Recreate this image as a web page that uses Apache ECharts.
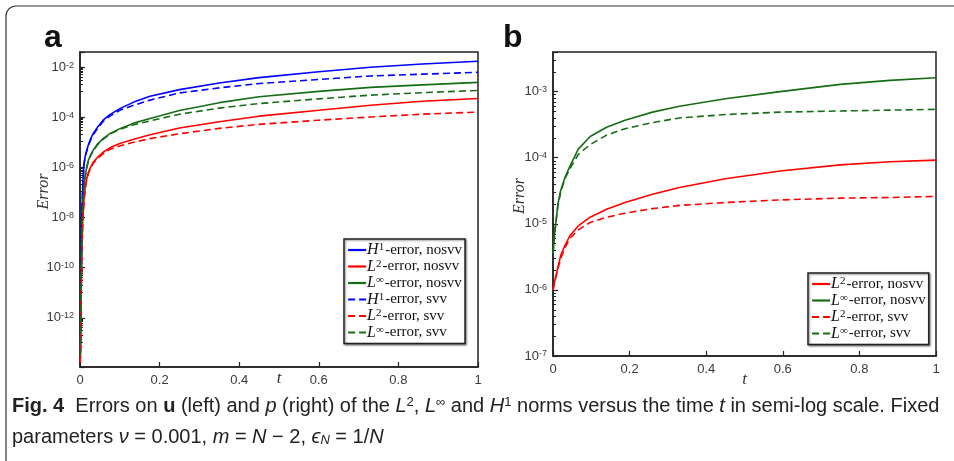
<!DOCTYPE html>
<html><head><meta charset="utf-8">
<script src="https://cdn.jsdelivr.net/npm/echarts@6/dist/echarts.min.js"></script>
<style>html,body{margin:0;padding:0;background:#fff}#c{width:954px;height:461px}</style>
</head><body><div id="c"></div>
<script>
// ---- Left panel (a): errors on u ----
const tLeft = [0.001, 0.003, 0.005, 0.007, 0.01, 0.013, 0.017, 0.021, 0.027, 0.033, 0.045, 0.058, 0.075, 0.1, 0.135, 0.176, 0.25, 0.35, 0.45, 0.6, 0.73, 0.86, 1];
const h1Nosvv = [6.3e-14, 3.2e-10, 2.5e-8, 2.2e-7, 1.4e-6, 2.8e-6, 4.8e-6, 7.9e-6, 1.4e-5, 2.2e-5, 4.2e-5, 7.6e-5, 1.26e-4, 2.2e-4, 4.0e-4, 6.8e-4, 1.26e-3, 2.3e-3, 3.8e-3, 6.5e-3, 9.8e-3, 1.32e-2, 1.7e-2];
const l2Nosvv = [2.5e-14, 1.0e-11, 6.3e-10, 7.9e-9, 5.0e-8, 1.6e-7, 3.5e-7, 6.3e-7, 1.05e-6, 1.6e-6, 2.6e-6, 4.0e-6, 6.0e-6, 8.9e-6, 1.32e-5, 2.0e-5, 3.7e-5, 6.6e-5, 1.1e-4, 1.9e-4, 3.0e-4, 4.3e-4, 5.6e-4];
const linfNosvv = [5.0e-14, 1.0e-10, 5.0e-9, 4.0e-8, 2.0e-7, 4.5e-7, 1.05e-6, 1.9e-6, 3.2e-6, 4.8e-6, 8.9e-6, 1.4e-5, 2.2e-5, 3.5e-5, 5.8e-5, 8.9e-5, 1.86e-4, 3.8e-4, 6.5e-4, 1.07e-3, 1.55e-3, 1.95e-3, 2.45e-3];
const h1Svv = [4.0e-14, 2.0e-10, 1.6e-8, 1.8e-7, 1.26e-6, 2.5e-6, 4.4e-6, 7.2e-6, 1.26e-5, 2.0e-5, 3.7e-5, 6.8e-5, 1.1e-4, 1.9e-4, 3.0e-4, 4.8e-4, 9.3e-4, 1.48e-3, 2.2e-3, 3.2e-3, 4.4e-3, 5.2e-3, 6.2e-3];
const l2Svv = [1.6e-14, 6.3e-12, 4.5e-10, 6.3e-9, 4.0e-8, 1.35e-7, 3.2e-7, 5.6e-7, 9.5e-7, 1.45e-6, 2.3e-6, 3.5e-6, 5.2e-6, 7.1e-6, 1.0e-5, 1.4e-5, 2.2e-5, 3.6e-5, 5.2e-5, 7.6e-5, 1.02e-4, 1.32e-4, 1.6e-4];
const linfSvv = [3.2e-14, 6.3e-11, 3.5e-9, 3.2e-8, 1.6e-7, 3.8e-7, 9.3e-7, 1.74e-6, 3.0e-6, 4.5e-6, 8.3e-6, 1.32e-5, 2.1e-5, 3.3e-5, 5.0e-5, 7.1e-5, 1.32e-4, 2.3e-4, 3.5e-4, 5.4e-4, 7.6e-4, 9.5e-4, 1.17e-3];

// ---- Right panel (b): errors on p ----
const tRight = [0, 0.005, 0.013, 0.02, 0.031, 0.044, 0.066, 0.097, 0.14, 0.188, 0.26, 0.33, 0.45, 0.593, 0.75, 0.88, 1];
const pL2Nosvv = [1.0e-6, 1.41e-6, 2.2e-6, 3.3e-6, 4.7e-6, 6.6e-6, 9.3e-6, 1.26e-5, 1.66e-5, 2.1e-5, 2.8e-5, 3.55e-5, 4.8e-5, 6.3e-5, 7.8e-5, 8.7e-5, 9.2e-5];
const pLinfNosvv = [3.5e-6, 7.9e-6, 2.0e-5, 3.2e-5, 5.0e-5, 7.4e-5, 1.35e-4, 2.1e-4, 2.9e-4, 3.7e-4, 4.9e-4, 6.0e-4, 7.8e-4, 1.0e-3, 1.29e-3, 1.48e-3, 1.62e-3];
const pL2Svv = [1.0e-6, 1.35e-6, 2.1e-6, 3.0e-6, 4.3e-6, 6.0e-6, 8.1e-6, 1.05e-5, 1.26e-5, 1.45e-5, 1.7e-5, 1.9e-5, 2.1e-5, 2.3e-5, 2.45e-5, 2.5e-5, 2.6e-5];
const pLinfSvv = [3.5e-6, 7.9e-6, 1.9e-5, 3.0e-5, 4.8e-5, 6.8e-5, 1.12e-4, 1.58e-4, 2.2e-4, 2.75e-4, 3.4e-4, 4.0e-4, 4.5e-4, 4.9e-4, 5.1e-4, 5.25e-4, 5.4e-4];

const xTicks = [0, 0.2, 0.4, 0.6, 0.8, 1];
const leftNames = ['H1-error, nosvv', 'L2-error, nosvv', 'L∞-error, nosvv', 'H1-error, svv', 'L2-error, svv', 'L∞-error, svv'];
const rightNames = ['L2-error, nosvv', 'L∞-error, nosvv', 'L2-error, svv', 'L∞-error, svv'];

const BLUE = '#0000ff', RED = '#ff0000', GREEN = '#166d16';
const SANS = "'Liberation Sans', Arial, sans-serif";
const SERIF = "'Liberation Serif', 'Times New Roman', serif";

function pairs(t, v) { return t.map((x, i) => [x, v[i]]); }
function line(name, t, v, color, dashed, g) {
  return {
    name, type: 'line', xAxisIndex: g, yAxisIndex: g, data: pairs(t, v),
    showSymbol: false, symbol: 'none', smooth: false,
    lineStyle: { color, width: 1.6, type: dashed ? [7, 4] : 'solid' },
    itemStyle: { color }, animation: false
  };
}
function legendText(name) {
  const m = name.match(/^(H|L)(1|2|∞)(-error, .*)$/);
  return '{i|' + m[1] + '}{s|' + m[2] + '}{n|' + m[3] + '}';
}
const legendRich = {
  i: { fontFamily: SERIF, fontStyle: 'italic', fontSize: 16, color: '#111' },
  s: { fontFamily: SERIF, fontSize: 11, color: '#111', verticalAlign: 'top', padding: [0, 1, 0, 0] },
  n: { fontFamily: SERIF, fontSize: 15, color: '#111' }
};
function yLabel(v) {
  const e = Math.log10(v);
  const r = Math.round(e);
  if (Math.abs(e - r) > 1e-6) return '';
  return '{b|10}{s|' + r + '}';
}
const yRich = {
  b: { fontFamily: SANS, fontSize: 13, color: '#3a3a3a' },
  s: { fontFamily: SANS, fontSize: 9, color: '#3a3a3a', verticalAlign: 'top' }
};
function xAxis(g, nameGap) {
  return {
    type: 'value', gridIndex: g, min: 0, max: 1, interval: 0.2,
    name: 't', nameLocation: 'middle', nameGap, nameMoveOverlap: false,
    nameTextStyle: { fontFamily: SERIF, fontStyle: 'italic', fontSize: 17, color: '#333' },
    axisLine: { show: true, lineStyle: { color: '#222', width: 1.5 } },
    axisTick: { show: true, inside: true, length: 5, lineStyle: { color: '#222', width: 1.2 } },
    axisLabel: { fontFamily: SANS, fontSize: 13, color: '#3a3a3a', margin: 7,
      formatter: v => xTicks.includes(+v.toFixed(1)) ? String(+v.toFixed(1)) : '' },
    splitLine: { show: false }
  };
}
function yAxis(g, base, min, max, minorSplit, nameGap, pad) {
  return {
    type: 'log', logBase: base, gridIndex: g, min, max, splitNumber: 5,
    name: 'Error', nameLocation: 'middle', nameGap, nameMoveOverlap: false,
    nameTextStyle: { fontFamily: SERIF, fontStyle: 'italic', fontSize: 16, color: '#333', padding: pad },
    axisLine: { show: true, lineStyle: { color: '#222', width: 1.5 } },
    axisTick: { show: true, inside: true, length: 5, lineStyle: { color: '#222', width: 1.2 } },
    minorTick: { show: true, splitNumber: minorSplit, length: 3, lineStyle: { color: '#222', width: 1 } },
    axisLabel: { formatter: yLabel, rich: yRich, margin: 6, showMaxLabel: false },
    splitLine: { show: false }, minorSplitLine: { show: false }
  };
}
const legendCommon = {
  orient: 'vertical', itemWidth: 18, itemHeight: 10, itemGap: 0.5,
  padding: [3, 3, 3, 3], backgroundColor: '#fff', borderColor: '#222', borderWidth: 1.5,
  shadowBlur: 2, shadowColor: 'rgba(0,0,0,0.45)', shadowOffsetX: 1, shadowOffsetY: 1,
  selectedMode: false, formatter: legendText, itemStyle: { opacity: 0 },
  lineStyle: { width: 2.2 },
  textStyle: { rich: legendRich, padding: [0, 0, 0, -4] }
};

const chart = echarts.init(document.getElementById('c'), null, { renderer: 'canvas' });
chart.setOption({
  backgroundColor: '#fff',
  animation: false,
  grid: [
    { left: 80, top: 52, width: 398, height: 315, show: true, borderColor: '#222', borderWidth: 1.5, backgroundColor: '#fff' },
    { left: 553, top: 52, width: 383, height: 304, show: true, borderColor: '#222', borderWidth: 1.5, backgroundColor: '#fff' }
  ],
  xAxis: [xAxis(0, 3), xAxis(1, 15)],
  yAxis: [
    yAxis(0, 100, Math.pow(10, -13.96), Math.pow(10, -1.4), 10, 28, [0, 0, 0, 36]),
    yAxis(1, 10, 1e-7, Math.pow(10, -2.4), 9, 25, [0, 0, 0, 16])
  ],
  legend: [
    Object.assign({ data: leftNames, left: 344, top: 239 }, legendCommon),
    Object.assign({ data: rightNames, left: 808, top: 273 }, legendCommon)
  ],
  series: [
    line('H1-error, nosvv', tLeft, h1Nosvv, BLUE, false, 0),
    line('L2-error, nosvv', tLeft, l2Nosvv, RED, false, 0),
    line('L∞-error, nosvv', tLeft, linfNosvv, GREEN, false, 0),
    line('H1-error, svv', tLeft, h1Svv, BLUE, true, 0),
    line('L2-error, svv', tLeft, l2Svv, RED, true, 0),
    line('L∞-error, svv', tLeft, linfSvv, GREEN, true, 0),
    line('L2-error, nosvv', tRight, pL2Nosvv, RED, false, 1),
    line('L∞-error, nosvv', tRight, pLinfNosvv, GREEN, false, 1),
    line('L2-error, svv', tRight, pL2Svv, RED, true, 1),
    line('L∞-error, svv', tRight, pLinfSvv, GREEN, true, 1)
  ],
  graphic: [
    { type: 'rect', z: -10, silent: true, shape: { x: 6, y: 6, width: 1000, height: 500, r: 10 },
      style: { fill: 'none', stroke: '#333', lineWidth: 1.2 } },
    { type: 'text', x: 44, y: 54, style: { text: 'a', font: "bold 32px 'Liberation Sans', Arial, sans-serif", fill: '#111', verticalAlign: 'bottom' } },
    { type: 'text', x: 503, y: 54, style: { text: 'b', font: "bold 32px 'Liberation Sans', Arial, sans-serif", fill: '#111', verticalAlign: 'bottom' } },
    { type: 'text', x: 12, y: 406, style: {
        text: '{b|Fig. 4}{r|  Errors on }{b|u}{r| (left) and }{i|p}{r| (right) of the }{i|L}{s|2}{r|, }{i|L}{s|∞}{r| and }{i|H}{s|1}{r| norms versus the time }{i|t}{r| in semi-log scale. Fixed}',
        verticalAlign: 'middle',
        rich: {
          b: { font: "bold 20px 'Liberation Sans', sans-serif", fill: '#222' },
          r: { font: "20px 'Liberation Sans', sans-serif", fill: '#222' },
          i: { font: "italic 20px 'Liberation Sans', sans-serif", fill: '#222' },
          s: { font: "13px 'Liberation Sans', sans-serif", fill: '#222', verticalAlign: 'top' }
        } } },
    { type: 'text', x: 12, y: 437, style: {
        text: '{r|parameters }{i|ν}{r| = 0.001, }{i|m}{r| = }{i|N}{r| − 2, }{i|ϵ}{sub|N}{r| = 1/}{i|N}',
        verticalAlign: 'middle',
        rich: {
          r: { font: "20px 'Liberation Sans', sans-serif", fill: '#222' },
          i: { font: "italic 20px 'Liberation Sans', sans-serif", fill: '#222' },
          sub: { font: "italic 13px 'Liberation Sans', sans-serif", fill: '#222', verticalAlign: 'bottom' }
        } } }
  ]
});
</script></body></html>
